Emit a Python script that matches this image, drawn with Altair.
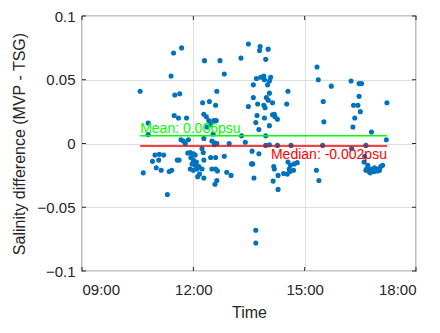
import altair as alt
import pandas as pd

times = ["10:34","10:47","10:47","10:39","10:54","10:58","11:05","11:12","11:04","11:00",
         "11:08","11:21","11:18","11:24","11:28","11:41","11:30","11:38","11:36","11:49",
         "11:29","11:37","11:34","11:25","11:40","11:44","11:47","11:52","11:51","11:55",
         "12:00","12:03","11:56","12:00","12:05","11:58","12:03","12:09","11:55","12:00",
         "12:06","12:07","12:10","12:14","12:16","12:28","12:17","12:14","12:30","12:36",
         "12:39","12:38","12:17","12:17","12:30","12:38","12:17","12:21","12:25","12:28",
         "12:22","12:18","12:43","12:15","12:26","12:36","12:33","12:37","12:38","12:50",
         "12:32","12:34","12:34","12:36","12:50","12:54","13:01","12:35","12:58","13:17",
         "13:18","13:24","13:29","13:29","13:35","13:34","13:36","13:38","13:41","13:41",
         "13:37","13:37","13:42","13:49","13:54","13:55","14:05","14:03","14:00","13:48",
         "13:47","14:01","13:57","14:03","13:58","14:01","13:44","13:54","13:56","14:08",
         "13:43","13:55","14:08","14:11","14:12","14:16","14:33","14:31","13:41","13:46",
         "14:03","13:57","13:57","14:03","14:16","14:38","13:46","14:09","14:17","14:17",
         "14:11","14:10","14:33","14:37","14:43","14:48","14:35","14:42","14:36","14:32",
         "14:26","15:20","15:22","15:43","15:30","15:31","15:29","15:19","15:23","16:15",
         "16:28","16:32","16:28","16:19","16:26","16:30","16:21","16:18","16:48","17:13",
         "17:12","16:16","16:39","16:37","16:36","16:42","16:39","16:44","16:50","16:55",
         "16:59","17:03","17:06","16:47","16:52","16:58","16:40","16:46","17:01","16:53"]
values = [0.041,0.016,0.007,-0.023,-0.014,-0.009,-0.0085,-0.009,-0.013,-0.019,
          -0.021,-0.022,-0.040,0.053,0.071,0.075,0.038,0.039,0.020,0.020,
          0.022,-0.013,-0.013,-0.021,0.003,0.002,0.000,0.003,-0.0075,-0.007,
          -0.008,-0.009,-0.011,-0.013,-0.0145,-0.016,-0.017,-0.018,-0.020,-0.021,
          -0.020,-0.026,-0.024,-0.004,-0.007,-0.011,-0.013,-0.020,-0.020,-0.020,
          -0.0215,-0.029,-0.027,0.004,0.002,0.000,0.023,0.021,0.018,0.015,
          0.013,0.065,0.065,0.032,0.033,0.030,0.018,0.018,0.041,0.0545,
          0.0075,0.0005,-0.001,-0.011,-0.010,-0.0225,-0.025,-0.032,0.000,0.067,
          0.006,0.001,0.078,0.029,-0.006,-0.016,-0.016,-0.027,-0.068,-0.078,
          0.046,0.036,0.051,0.052,0.053,0.050,0.052,0.049,0.046,0.076,
          0.073,0.074,0.066,0.0395,0.036,0.034,0.031,0.030,0.028,0.032,
          0.022,0.020,0.0225,0.023,0.021,0.019,0.041,0.031,0.0165,0.011,
          0.014,0.006,-0.0015,-0.001,-0.0015,-0.0015,-0.008,-0.0295,-0.036,-0.025,
          -0.020,-0.018,-0.0145,-0.017,-0.016,-0.015,-0.020,-0.021,-0.022,-0.024,
          -0.0235,0.060,0.050,0.045,0.033,0.017,-0.0015,-0.021,-0.029,0.049,
          0.047,0.047,0.037,0.030,0.030,0.025,0.020,0.013,0.009,0.032,
          0.003,-0.004,-0.0015,-0.010,-0.0145,-0.017,-0.021,-0.022,-0.022,-0.021,
          -0.020,-0.018,-0.017,-0.020,-0.022,-0.0215,-0.020,-0.023,-0.021,-0.019]

mean_value = 0.006
median_value = -0.002
line_start = "10:34"
line_end = "17:13"
mean_label = "Mean: 0.006psu"
median_label = "Median: -0.002psu"

x_ticks = [9, 12, 15, 18]
y_ticks = [-0.1, -0.05, 0, 0.05, 0.1]

def to_hours(s):
    h, m = s.split(":")
    return int(h) + int(m) / 60.0

df = pd.DataFrame({"t": [to_hours(s) for s in times], "v": values})
stats = pd.DataFrame({
    "t": [to_hours(line_start)], "t2": [to_hours(line_end)],
    "mean": [mean_value], "median": [median_value],
    "mlabel": [mean_label], "dlabel": [median_label],
})

FONT = "Liberation Sans"
TXT = "#262626"
W, H = 334, 255

xscale = alt.Scale(domain=[9, 18], nice=False)
yscale = alt.Scale(domain=[-0.1, 0.1], nice=False)

xaxis = alt.Axis(values=x_ticks, labelExpr="(datum.value < 10 ? '0' : '') + datum.value + ':00'",
                 title="Time", grid=True, gridColor="#DEDEDE", domain=False, ticks=False,
                 labelFontSize=15, labelColor=TXT, labelFont=FONT, labelPadding=11,
                 titleFontSize=16, titleColor=TXT, titleFont=FONT, titleFontWeight="normal",
                 titlePadding=7)
yaxis = alt.Axis(values=y_ticks, labelExpr="datum.value == 0 ? '0' : format(datum.value, '.2~f')",
                 title="Salinity difference (MVP - TSG)", grid=True, gridColor="#DEDEDE",
                 domain=False, ticks=False,
                 labelFontSize=15, labelColor=TXT, labelFont=FONT, labelPadding=7,
                 titleFontSize=16, titleColor=TXT, titleFont=FONT, titleFontWeight="normal",
                 titlePadding=10)

points = alt.Chart(df).mark_circle(size=26, color="#0072BD", opacity=1).encode(
    x=alt.X("t:Q", scale=xscale, axis=xaxis),
    y=alt.Y("v:Q", scale=yscale, axis=yaxis),
)

base = alt.Chart(stats)
mean_line = base.mark_rule(color="#00FF00", strokeWidth=1.5).encode(
    x=alt.X("t:Q", scale=xscale), x2="t2:Q", y=alt.Y("mean:Q", scale=yscale))
median_line = base.mark_rule(color="#FF0000", strokeWidth=1.5).encode(
    x=alt.X("t:Q", scale=xscale), x2="t2:Q", y=alt.Y("median:Q", scale=yscale))
mean_text = base.mark_text(color="#00FF00", align="left", baseline="bottom", dy=0,
                           fontSize=14, font=FONT).encode(
    x=alt.X("t:Q", scale=xscale), y=alt.Y("mean:Q", scale=yscale), text="mlabel:N")
median_text = base.mark_text(color="#FF0000", align="right", baseline="top", dy=2,
                             fontSize=14, font=FONT).encode(
    x=alt.X("t2:Q", scale=xscale), y=alt.Y("median:Q", scale=yscale), text="dlabel:N")

# inward tick marks on all four sides
xt = pd.DataFrame({"t": x_ticks})
yt = pd.DataFrame({"v": y_ticks})
tick_col = TXT
xt_bottom = alt.Chart(xt).mark_rule(color=tick_col, strokeWidth=1).encode(
    x=alt.X("t:Q", scale=xscale), y=alt.value(H), y2=alt.value(H - 4))
xt_top = alt.Chart(xt).mark_rule(color=tick_col, strokeWidth=1).encode(
    x=alt.X("t:Q", scale=xscale), y=alt.value(0), y2=alt.value(4))
yt_left = alt.Chart(yt).mark_rule(color=tick_col, strokeWidth=1).encode(
    y=alt.Y("v:Q", scale=yscale), x=alt.value(0), x2=alt.value(4))
yt_right = alt.Chart(yt).mark_rule(color=tick_col, strokeWidth=1).encode(
    y=alt.Y("v:Q", scale=yscale), x=alt.value(W), x2=alt.value(W - 4))

chart = alt.layer(points, mean_line, median_line, mean_text, median_text,
                  xt_bottom, xt_top, yt_left, yt_right).properties(
    width=W, height=H,
    autosize=alt.AutoSizeParams(type="none"),
    padding={"left": 74, "top": 8, "right": 16, "bottom": 54},
    background="white",
).configure_view(stroke=TXT, strokeWidth=1.2)

chart.save("out.html", embed_options={"renderer": "svg", "actions": False})
